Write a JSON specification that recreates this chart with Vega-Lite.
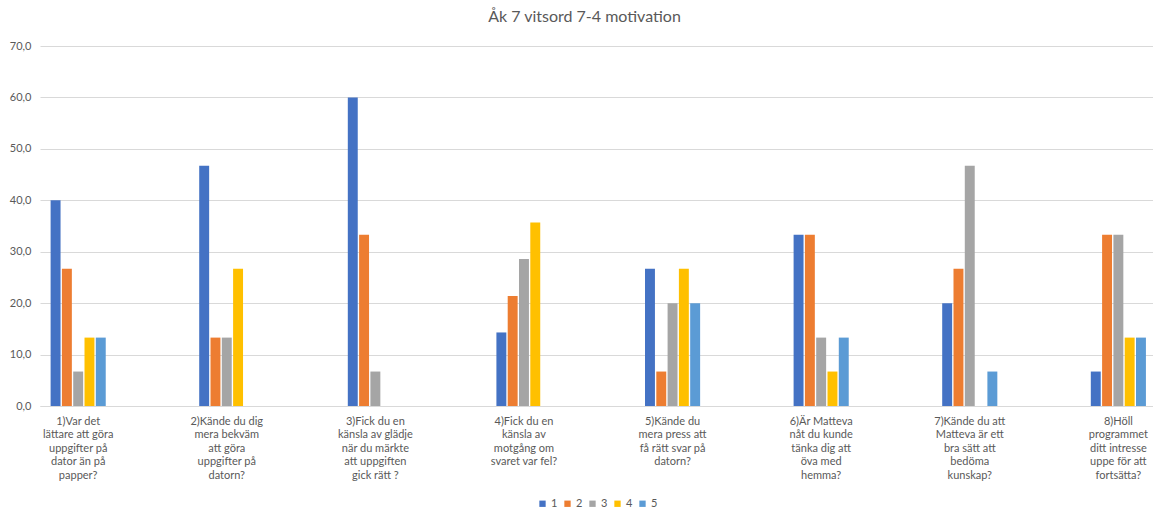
{
  "$schema": "https://vega.github.io/schema/vega-lite/v6.json",
  "autosize": "none",
  "padding": {"left": 40, "top": 46, "right": 0, "bottom": 104},
  "width": 1113,
  "height": 360,
  "background": "white",
  "title": {
    "text": "Åk 7 vitsord 7-4 motivation",
    "font": "Lato",
    "fontSize": 16,
    "fontWeight": "normal",
    "color": "#595959",
    "offset": 15,
    "dx": -12
  },
  "data": {
    "values": [
      {"q": "1)Var det|lättare att göra|uppgifter på|dator än på|papper?", "s": "1", "v": 40.0},
      {"q": "1)Var det|lättare att göra|uppgifter på|dator än på|papper?", "s": "2", "v": 26.7},
      {"q": "1)Var det|lättare att göra|uppgifter på|dator än på|papper?", "s": "3", "v": 6.7},
      {"q": "1)Var det|lättare att göra|uppgifter på|dator än på|papper?", "s": "4", "v": 13.3},
      {"q": "1)Var det|lättare att göra|uppgifter på|dator än på|papper?", "s": "5", "v": 13.3},
      {"q": "2)Kände du  dig|mera bekväm|att göra|uppgifter på|datorn?", "s": "1", "v": 46.7},
      {"q": "2)Kände du  dig|mera bekväm|att göra|uppgifter på|datorn?", "s": "2", "v": 13.3},
      {"q": "2)Kände du  dig|mera bekväm|att göra|uppgifter på|datorn?", "s": "3", "v": 13.3},
      {"q": "2)Kände du  dig|mera bekväm|att göra|uppgifter på|datorn?", "s": "4", "v": 26.7},
      {"q": "2)Kände du  dig|mera bekväm|att göra|uppgifter på|datorn?", "s": "5", "v": 0},
      {"q": "3)Fick du en|känsla av glädje|när du märkte|att uppgiften|gick rätt ?", "s": "1", "v": 60.0},
      {"q": "3)Fick du en|känsla av glädje|när du märkte|att uppgiften|gick rätt ?", "s": "2", "v": 33.3},
      {"q": "3)Fick du en|känsla av glädje|när du märkte|att uppgiften|gick rätt ?", "s": "3", "v": 6.7},
      {"q": "3)Fick du en|känsla av glädje|när du märkte|att uppgiften|gick rätt ?", "s": "4", "v": 0},
      {"q": "3)Fick du en|känsla av glädje|när du märkte|att uppgiften|gick rätt ?", "s": "5", "v": 0},
      {"q": "4)Fick du en|känsla av|motgång om|svaret var fel?", "s": "1", "v": 14.3},
      {"q": "4)Fick du en|känsla av|motgång om|svaret var fel?", "s": "2", "v": 21.4},
      {"q": "4)Fick du en|känsla av|motgång om|svaret var fel?", "s": "3", "v": 28.6},
      {"q": "4)Fick du en|känsla av|motgång om|svaret var fel?", "s": "4", "v": 35.7},
      {"q": "4)Fick du en|känsla av|motgång om|svaret var fel?", "s": "5", "v": 0},
      {"q": "5)Kände du|mera press att|få rätt svar på|datorn?", "s": "1", "v": 26.7},
      {"q": "5)Kände du|mera press att|få rätt svar på|datorn?", "s": "2", "v": 6.7},
      {"q": "5)Kände du|mera press att|få rätt svar på|datorn?", "s": "3", "v": 20.0},
      {"q": "5)Kände du|mera press att|få rätt svar på|datorn?", "s": "4", "v": 26.7},
      {"q": "5)Kände du|mera press att|få rätt svar på|datorn?", "s": "5", "v": 20.0},
      {"q": "6)Är Matteva|nåt du kunde|tänka dig att|öva med|hemma?", "s": "1", "v": 33.3},
      {"q": "6)Är Matteva|nåt du kunde|tänka dig att|öva med|hemma?", "s": "2", "v": 33.3},
      {"q": "6)Är Matteva|nåt du kunde|tänka dig att|öva med|hemma?", "s": "3", "v": 13.3},
      {"q": "6)Är Matteva|nåt du kunde|tänka dig att|öva med|hemma?", "s": "4", "v": 6.7},
      {"q": "6)Är Matteva|nåt du kunde|tänka dig att|öva med|hemma?", "s": "5", "v": 13.3},
      {"q": "7)Kände du att|Matteva är ett|bra sätt att|bedöma|kunskap?", "s": "1", "v": 20.0},
      {"q": "7)Kände du att|Matteva är ett|bra sätt att|bedöma|kunskap?", "s": "2", "v": 26.7},
      {"q": "7)Kände du att|Matteva är ett|bra sätt att|bedöma|kunskap?", "s": "3", "v": 46.7},
      {"q": "7)Kände du att|Matteva är ett|bra sätt att|bedöma|kunskap?", "s": "4", "v": 0},
      {"q": "7)Kände du att|Matteva är ett|bra sätt att|bedöma|kunskap?", "s": "5", "v": 6.7},
      {"q": "8)Höll|programmet|ditt intresse|uppe för att|fortsätta?", "s": "1", "v": 6.7},
      {"q": "8)Höll|programmet|ditt intresse|uppe för att|fortsätta?", "s": "2", "v": 33.3},
      {"q": "8)Höll|programmet|ditt intresse|uppe för att|fortsätta?", "s": "3", "v": 33.3},
      {"q": "8)Höll|programmet|ditt intresse|uppe för att|fortsätta?", "s": "4", "v": 13.3},
      {"q": "8)Höll|programmet|ditt intresse|uppe för att|fortsätta?", "s": "5", "v": 13.3}
    ]
  },
  "mark": {"type": "bar"},
  "encoding": {
    "x": {
      "field": "q",
      "type": "nominal",
      "sort": null,
      "title": null,
      "scale": {"paddingInner": 0.629, "paddingOuter": 0.0595, "align": 0.6, "round": false},
      "axis": {
        "labelAngle": 0,
        "labelExpr": "split(datum.value, '|')",
        "labelFont": "Lato",
        "labelFontSize": 11,
        "labelColor": "#595959",
        "labelLineHeight": 13.5,
        "labelPadding": 9,
        "labelLimit": 0,
        "labelBaseline": "top",
        "ticks": false,
        "domainColor": "#d9d9d9",
        "domainWidth": 1
      }
    },
    "xOffset": {
      "field": "s",
      "type": "nominal",
      "scale": {"paddingInner": 0.12, "paddingOuter": 0, "round": false}
    },
    "y": {
      "field": "v",
      "type": "quantitative",
      "title": null,
      "scale": {"domain": [0, 70], "nice": false},
      "axis": {
        "values": [0, 10, 20, 30, 40, 50, 60, 70],
        "labelExpr": "replace(format(datum.value, '.1f'), '.', ',')",
        "labelFont": "Lato",
        "labelFontSize": 11,
        "labelColor": "#595959",
        "labelPadding": 9,
        "ticks": false,
        "domain": false,
        "gridColor": "#d9d9d9",
        "gridWidth": 1
      }
    },
    "color": {
      "field": "s",
      "type": "nominal",
      "title": null,
      "scale": {
        "domain": ["1", "2", "3", "4", "5"],
        "range": ["#4472C4", "#ED7D31", "#A5A5A5", "#FFC000", "#5B9BD5"]
      },
      "legend": {
        "orient": "none",
        "direction": "horizontal",
        "legendX": 497,
        "legendY": 452,
        "symbolType": "square",
        "symbolSize": 40,
        "symbolStrokeWidth": 0,
        "labelFont": "Lato",
        "labelFontSize": 11,
        "labelColor": "#595959",
        "labelOffset": 3,
        "columnPadding": 4
      }
    }
  },
  "config": {
    "view": {"stroke": null}
  }
}
